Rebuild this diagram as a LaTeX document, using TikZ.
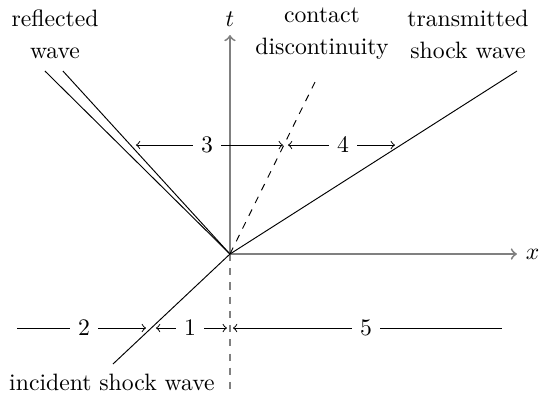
\documentclass[tikz,border=0pt]{standalone}
\usetikzlibrary{positioning}
\begin{document}
\begin{tikzpicture}[axis/.style={gray,line width=0.8pt},region/.style={->}]
\useasboundingbox (-3.412,-2.136) rectangle (4.585,3.769);
% origin and ends of the waves
\coordinate (O) at (0,0);
\coordinate (xend) at (4.258,0);
\coordinate (tend) at (0,3.249);
\coordinate (tail) at (0,-2.018);
\coordinate (refl1) at (-2.745,2.715);
\coordinate (refl2) at (-2.478,2.715);
\coordinate (cont) at (1.306,2.641);
\coordinate (trans) at (4.258,2.715);
\coordinate (inc) at (-1.736,-1.632);
% axes
\draw[axis,->] (O) -- (xend) node[right,black] (xlab) {$x$};
\draw[axis,->] (O) -- (tend) node[above,black] (tlab) {$t$};
\draw[axis,dashed] (O) -- (tail);
% waves
\draw (O) -- (refl1);
\draw (O) -- (refl2);
\draw[dashed] (O) -- (cont);
\draw (O) -- (trans);
\draw (O) -- (inc);
% names of the waves
\node[align=center] (reflab) at (-2.596,3.264) {reflected\\[1.5pt]wave};
\node[align=center] (contlab) at (1.365,3.264) {contact\\[1.5pt]discontinuity};
\node[align=center] (translab) at (3.531,3.264) {transmitted\\[1.5pt]shock wave};
\node (inclab) at (-1.751,-1.899) {incident shock wave};
% regions
\foreach \n/\x/\y/\a/\b in {3/-0.341/1.617/-1.395/0.786,4/1.677/1.617/0.861/2.448,1/-0.593/-1.098/-1.098/-0.045}{
  \node (r\n) at (\x,\y) {$\n$};
  \coordinate (r\n a) at (\a,\y);
  \coordinate (r\n b) at (\b,\y);
  \draw[region] (r\n) -- (r\n a);
  \draw[region] (r\n) -- (r\n b);
}
\node (r2) at (-2.166,-1.098) {$2$};
\coordinate (r2a) at (-3.160,-1.098);
\coordinate (r2b) at (-1.246,-1.098);
\draw (r2) -- (r2a);
\draw[region] (r2) -- (r2b);
\node (r5) at (2.018,-1.098) {$5$};
\coordinate (r5a) at (0.045,-1.098);
\coordinate (r5b) at (4.036,-1.098);
\draw[region] (r5) -- (r5a);
\draw (r5) -- (r5b);
\end{tikzpicture}
\end{document}
